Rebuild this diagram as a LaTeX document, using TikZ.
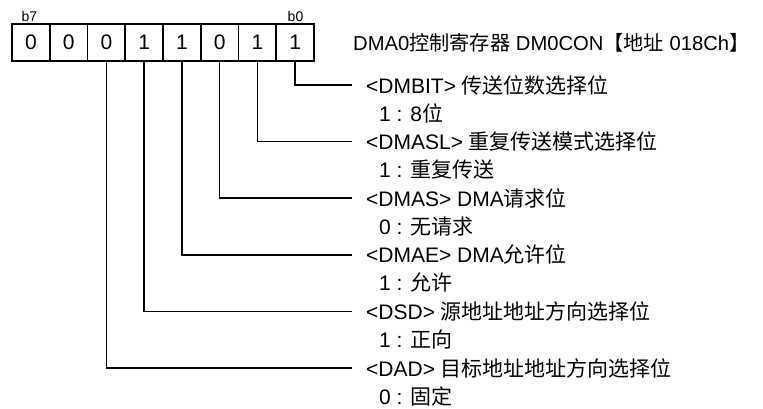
\documentclass[tikz,border=0pt]{standalone}
\usepackage{fontspec}
\setmainfont{Liberation Sans}
\newfontfamily\cjk{Noto Sans CJK SC}
\tikzset{
  cell/.style={draw, line width=1.5pt, minimum width=37.75pt, minimum height=37pt, inner sep=0pt, font=\fontsize{21}{24}\selectfont},
  bitlbl/.style={inner sep=0pt, font=\fontsize{14}{16}\selectfont},
  lbl/.style={anchor=west, inner sep=0pt, font=\fontsize{21}{25}\selectfont},
  conn/.style={line width=1.5pt}
}
\begin{document}
\begin{tikzpicture}[x=1pt,y=1pt]
\useasboundingbox (0,0) rectangle (763,-408);
% register cells
\node[cell] (c7) at (30.9,-42.5) {0};
\node[cell] (c6) at (68.6,-42.5) {0};
\node[cell] (c5) at (106.4,-42.5) {0};
\node[cell] (c4) at (144.1,-42.5) {1};
\node[cell] (c3) at (181.9,-42.5) {1};
\node[cell] (c2) at (219.6,-42.5) {0};
\node[cell] (c1) at (257.4,-42.5) {1};
\node[cell] (c0) at (295.1,-42.5) {1};
\node[bitlbl] (b7) at (29.5,-16.5) {b7};
\node[bitlbl] (b0) at (295.5,-16.5) {b0};
% title
\node[lbl, font=\fontsize{20.2}{24}\selectfont] (title) at (353,-42.5) {DMA0{\cjk 控制寄存器} DM0CON{\cjk 【地址} 018Ch{\cjk 】}};
% labels
\node[lbl] (l0) at (366,-85) {<DMBIT> {\cjk 传送位数选择位}};
\node[lbl] (s0) at (379,-113) {1 : 8{\cjk 位}};
\node[lbl] (l1) at (366,-141.6) {<DMASL> {\cjk 重复传送模式选择位}};
\node[lbl] (s1) at (379,-169.6) {1 : {\cjk 重复传送}};
\node[lbl] (l2) at (366,-198.2) {<DMAS> DMA{\cjk 请求位}};
\node[lbl] (s2) at (379,-226.2) {0 : {\cjk 无请求}};
\node[lbl] (l3) at (366,-254.8) {<DMAE> DMA{\cjk 允许位}};
\node[lbl] (s3) at (379,-282.8) {1 : {\cjk 允许}};
\node[lbl] (l4) at (366,-311.4) {<DSD> {\cjk 源地址地址方向选择位}};
\node[lbl] (s4) at (379,-339.4) {1 : {\cjk 正向}};
\node[lbl] (l5) at (366,-368) {<DAD> {\cjk 目标地址地址方向选择位}};
\node[lbl] (s5) at (379,-396) {0 : {\cjk 固定}};
% connectors
\draw[conn] (c0.south) |- ([xshift=-14pt]l0.west);
\draw[conn] (c1.south) |- ([xshift=-14pt]l1.west);
\draw[conn] (c2.south) |- ([xshift=-14pt]l2.west);
\draw[conn] (c3.south) |- ([xshift=-14pt]l3.west);
\draw[conn] (c4.south) |- ([xshift=-14pt]l4.west);
\draw[conn] (c5.south) |- ([xshift=-14pt]l5.west);
\end{tikzpicture}
\end{document}
